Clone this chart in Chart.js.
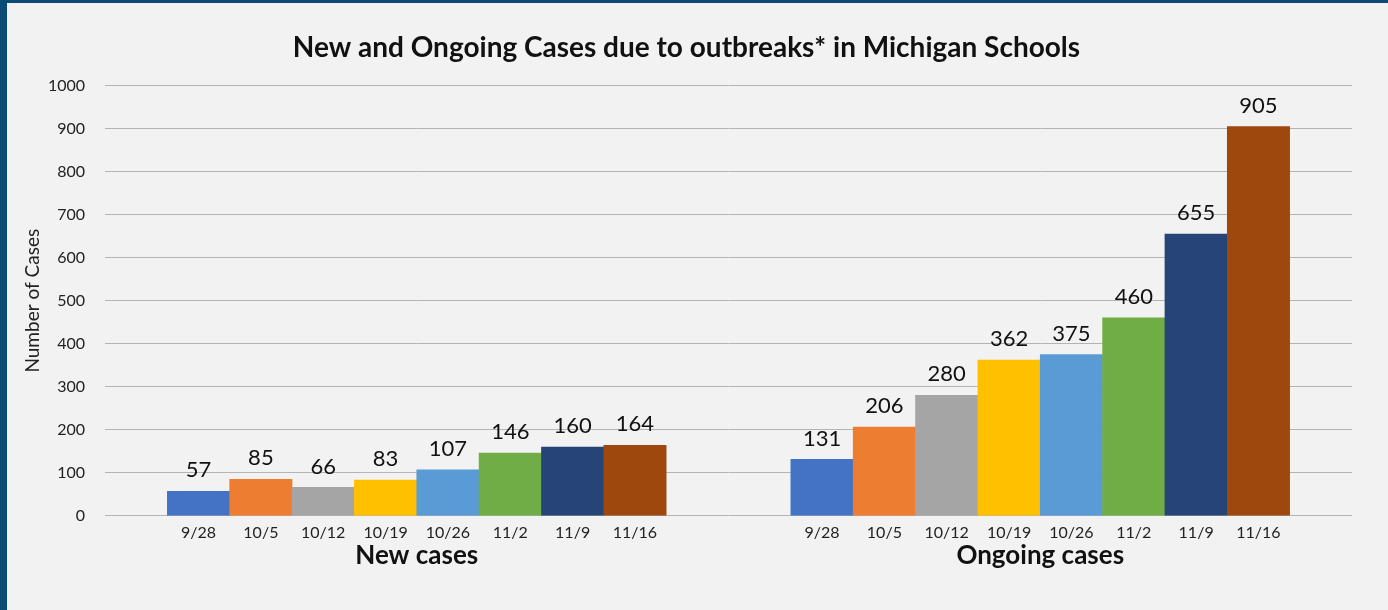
<!DOCTYPE html>
<html>
<head>
<meta charset="utf-8">
<script src="https://cdn.jsdelivr.net/npm/chart.js@4/dist/chart.umd.min.js"></script>
<style>
  html, body { margin: 0; padding: 0; background: #0b4b74; overflow: hidden; }
  #wrap { position: absolute; left: 7px; top: 3px; width: 1381px; height: 607px; background: #f2f2f2; }
</style>
</head>
<body>
<div id="wrap"><canvas id="myChart" width="1381" height="607"></canvas></div>
<script>
// data
const dates = ["9/28", "10/5", "10/12", "10/19", "10/26", "11/2", "11/9", "11/16"];
const newCases = [57, 85, 66, 83, 107, 146, 160, 164];
const ongoingCases = [131, 206, 280, 362, 375, 460, 655, 905];
const groupNames = ["New cases", "Ongoing cases"];
const yTicks = [0, 100, 200, 300, 400, 500, 600, 700, 800, 900, 1000];

const barColors = ["#4472c4", "#ed7d31", "#a5a5a5", "#ffc000", "#5b9bd5", "#70ad47", "#264478", "#9e480e"];
const FONT = "Lato, 'Open Sans', sans-serif";

// one blank slot at each end and two between the groups
const labels = [""].concat(dates, ["", ""], dates, [""]);
const values = [null].concat(newCases, [null, null], ongoingCases, [null]);
const colors = ["#fff"].concat(barColors, ["#fff", "#fff"], barColors, ["#fff"]);

const valueLabels = {
  id: "valueLabels",
  afterDatasetsDraw(chart) {
    const c = chart.ctx;
    const meta = chart.getDatasetMeta(0);
    c.save();
    c.font = "22px " + FONT;
    c.fillStyle = "#111";
    c.textAlign = "center";
    c.textBaseline = "bottom";
    meta.data.forEach((bar, i) => {
      const v = values[i];
      if (v == null) return;
      c.fillText(String(v), bar.x, bar.y - 10);
    });
    c.restore();
  }
};

const ctx = document.querySelector("#myChart").getContext("2d");
const chart = new Chart(ctx, {
  type: "bar",
  data: {
    labels: labels,
    datasets: [{
      data: values,
      backgroundColor: colors,
      borderWidth: 0,
      barPercentage: 1,
      categoryPercentage: 1
    }]
  },
  options: {
    responsive: false,
    animation: false,
    layout: { padding: { left: 14, right: 36, top: 0, bottom: 39 } },
    plugins: {
      legend: { display: false },
      tooltip: { enabled: false },
      title: {
        display: true,
        text: "New and Ongoing Cases due to outbreaks* in Michigan Schools",
        color: "#111",
        font: { family: FONT, size: 28, weight: "bold" },
        padding: { top: 28, bottom: 21 }
      }
    },
    scales: {
      x: {
        afterFit: (s) => { s.height = 24; },
        grid: { display: false, drawTicks: false },
        border: { display: false },
        ticks: {
          color: "#222",
          font: { family: FONT, size: 16 },
          padding: 7,
          maxRotation: 0,
          autoSkip: false
        }
      },
      group: {
        type: "category",
        position: "bottom",
        labels: groupNames,
        grid: { display: false, drawTicks: false },
        border: { display: false },
        ticks: {
          color: "#111",
          font: { family: FONT, size: 26, weight: "bold" },
          padding: 0
        }
      },
      y: {
        min: 0,
        max: 1000,
        afterBuildTicks: (s) => { s.ticks = yTicks.map(v => ({ value: v })); },
        afterFit: (s) => { s.width = 84; },
        grid: { color: "#b4b4b4", lineWidth: 1, drawTicks: false },
        border: { display: false },
        ticks: {
          color: "#222",
          font: { family: FONT, size: 16 },
          padding: 20,
          callback: (v) => String(v)
        },
        title: {
          display: true,
          text: "Number of Cases",
          color: "#222",
          font: { family: FONT, size: 19 },
          padding: 0
        }
      }
    }
  },
  plugins: [valueLabels]
});
</script>
</body>
</html>
